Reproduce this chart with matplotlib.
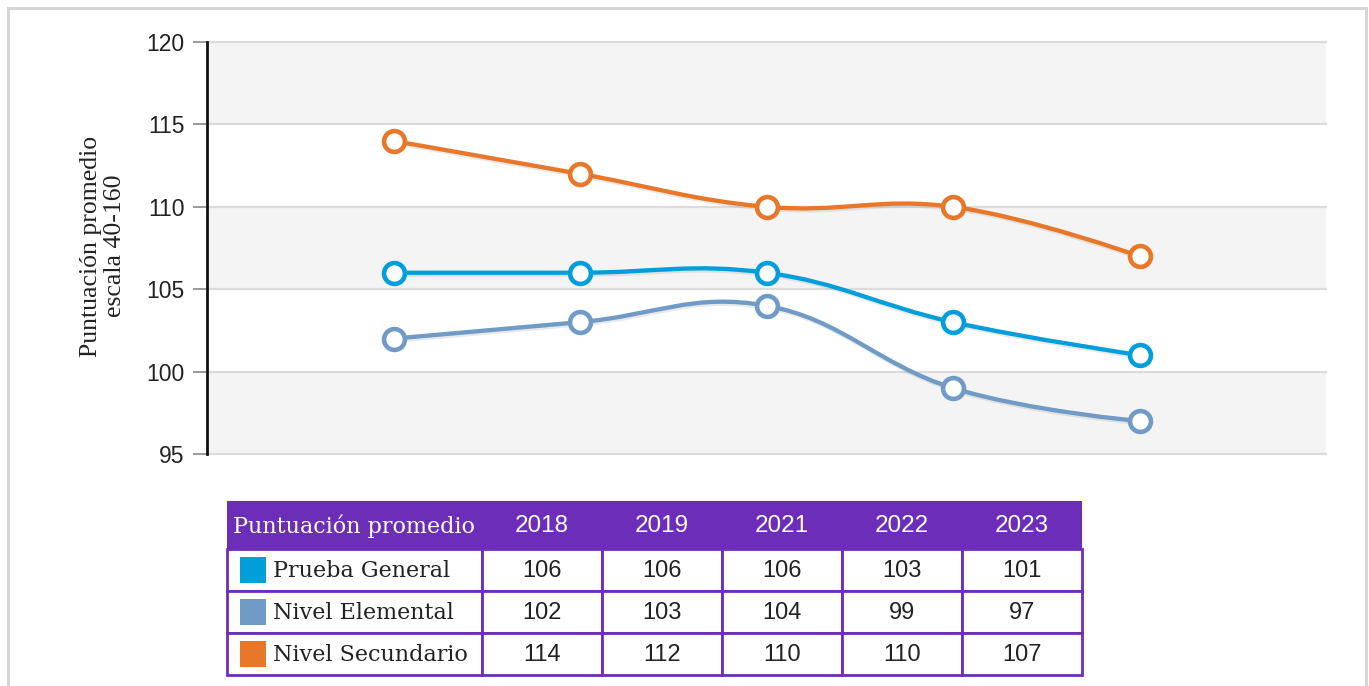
import numpy as np
import matplotlib
matplotlib.use('Agg')
import matplotlib.pyplot as plt
import matplotlib.patheffects as pe
from matplotlib.path import Path
from matplotlib.patches import PathPatch, Rectangle

# datos
anios = ['2018', '2019', '2021', '2022', '2023']
series = ['Prueba General', 'Nivel Elemental', 'Nivel Secundario']
prueba_general = [106, 106, 106, 103, 101]
nivel_elemental = [102, 103, 104, 99, 97]
nivel_secundario = [114, 112, 110, 110, 107]
colores = ['#009edb', '#6f9bc6', '#e8772a']
valores = [prueba_general, nivel_elemental, nivel_secundario]

W, H = 1369, 686
MORADO = '#6c2eb8'


def spline_path(xs, ys, smoothing=1.5):
    '''Curva suave estilo "spline" (tangente por los vecinos).'''
    n = len(xs)
    izq = [(xs[i], ys[i]) for i in range(n)]
    der = [(xs[i], ys[i]) for i in range(n)]
    d = smoothing + 1
    for i in range(1, n - 1):
        px, py = xs[i], ys[i]
        lx, ly = xs[i - 1], ys[i - 1]
        nx, ny = xs[i + 1], ys[i + 1]
        lcx = (smoothing * px + lx) / d
        lcy = (smoothing * py + ly) / d
        rcx = (smoothing * px + nx) / d
        rcy = (smoothing * py + ny) / d
        corr = ((rcy - lcy) * (rcx - px)) / (rcx - lcx) + py - rcy
        izq[i] = (lcx, lcy + corr)
        der[i] = (rcx, rcy + corr)
    verts = [(xs[0], ys[0])]
    codes = [Path.MOVETO]
    for i in range(1, n):
        verts += [der[i - 1], izq[i], (xs[i], ys[i])]
        codes += [Path.CURVE4] * 3
    return Path(verts, codes)


fig = plt.figure(figsize=(W / 100, H / 100), dpi=100)

# borde gris de la figura
fig.patches.append(Rectangle((8 / W, -0.05), (1366 - 8) / W, 1.05 - 8 / H,
                             transform=fig.transFigure, fill=False,
                             edgecolor='#d6d6d6', linewidth=2.2))

# grafica
ax = fig.add_axes([207 / W, 1 - 454 / H, 1119 / W, 412 / H])
x = np.arange(len(anios))
ax.set_xlim(-1, 5)
ax.set_ylim(95, 120)
for lo in [95, 105, 115]:
    ax.axhspan(lo, lo + 5, color='#f4f4f4', zorder=0, lw=0)
for yv in range(95, 121, 5):
    ax.axhline(yv, color='#dcdcdc', lw=1.6, zorder=1, clip_on=False)

for vals, c in zip(valores, colores):
    p = spline_path(x, vals)
    ax.add_patch(PathPatch(p, fill=False, edgecolor=c, lw=3.1, zorder=3,
                           capstyle='round',
                           path_effects=[pe.SimpleLineShadow(offset=(0.8, -1.5), shadow_color='#888888', alpha=0.18),
                                         pe.Normal()]))
    ax.plot(x, vals, 'o', ms=15, mfc='white', mec=c, mew=3.3, zorder=4, clip_on=False)

ax.set_yticks(range(95, 121, 5))
ax.tick_params(axis='y', length=10, width=1.4, color='#9a9a9a', pad=6,
               labelsize=16.5, labelcolor='#222222')
for lb in ax.get_yticklabels():
    lb.set_family('Liberation Sans')
ax.set_xticks([])
for s in ['top', 'right', 'bottom']:
    ax.spines[s].set_visible(False)
ax.spines['left'].set_linewidth(2)
ax.spines['left'].set_color('#111111')
ax.spines['left'].set_zorder(5)

fig.text(103 / W, 1 - 246 / H, 'Puntuación promedio\nescala 40-160', rotation=90,
         ha='center', va='center', multialignment='center',
         family='Liberation Serif', fontsize=18.5, color='#222222', linespacing=1.15)

# tabla
tx = fig.add_axes([0, 0, 1, 1])
tx.set_xlim(0, W)
tx.set_ylim(H, 0)
tx.axis('off')

col_x = [227, 482, 602, 722, 842, 962, 1082]
fila_y = [501, 549, 591, 633, 675]

tx.add_patch(Rectangle((col_x[0], fila_y[0]), col_x[-1] - col_x[0], fila_y[1] - fila_y[0],
                       facecolor=MORADO, edgecolor=MORADO, lw=0))
tx.text(col_x[0] + 6, (fila_y[0] + fila_y[1]) / 2 + 1, 'Puntuación promedio', color='white',
        family='DejaVu Serif', fontsize=16, ha='left', va='center')
for j, a in enumerate(anios):
    tx.text((col_x[j + 1] + col_x[j + 2]) / 2, (fila_y[0] + fila_y[1]) / 2 + 1, a, color='white',
            family='Liberation Sans', fontsize=17.5, ha='center', va='center')

for i, (nombre, vals, c) in enumerate(zip(series, valores, colores)):
    y0, y1 = fila_y[i + 1], fila_y[i + 2]
    for j in range(len(col_x) - 1):
        tx.add_patch(Rectangle((col_x[j], y0), col_x[j + 1] - col_x[j], y1 - y0,
                               facecolor='white', edgecolor=MORADO, lw=2))
    tx.add_patch(Rectangle((240, (y0 + y1) / 2 - 13), 26, 26, facecolor=c, edgecolor='none'))
    tx.text(273, (y0 + y1) / 2 + 1, nombre, family='DejaVu Serif', fontsize=16,
            color='#222222', ha='left', va='center')
    for j, v in enumerate(vals):
        tx.text((col_x[j + 1] + col_x[j + 2]) / 2, (y0 + y1) / 2 + 1, str(v),
                family='Liberation Sans', fontsize=17, color='#222222', ha='center', va='center')

fig.savefig('out.png', dpi=100)
